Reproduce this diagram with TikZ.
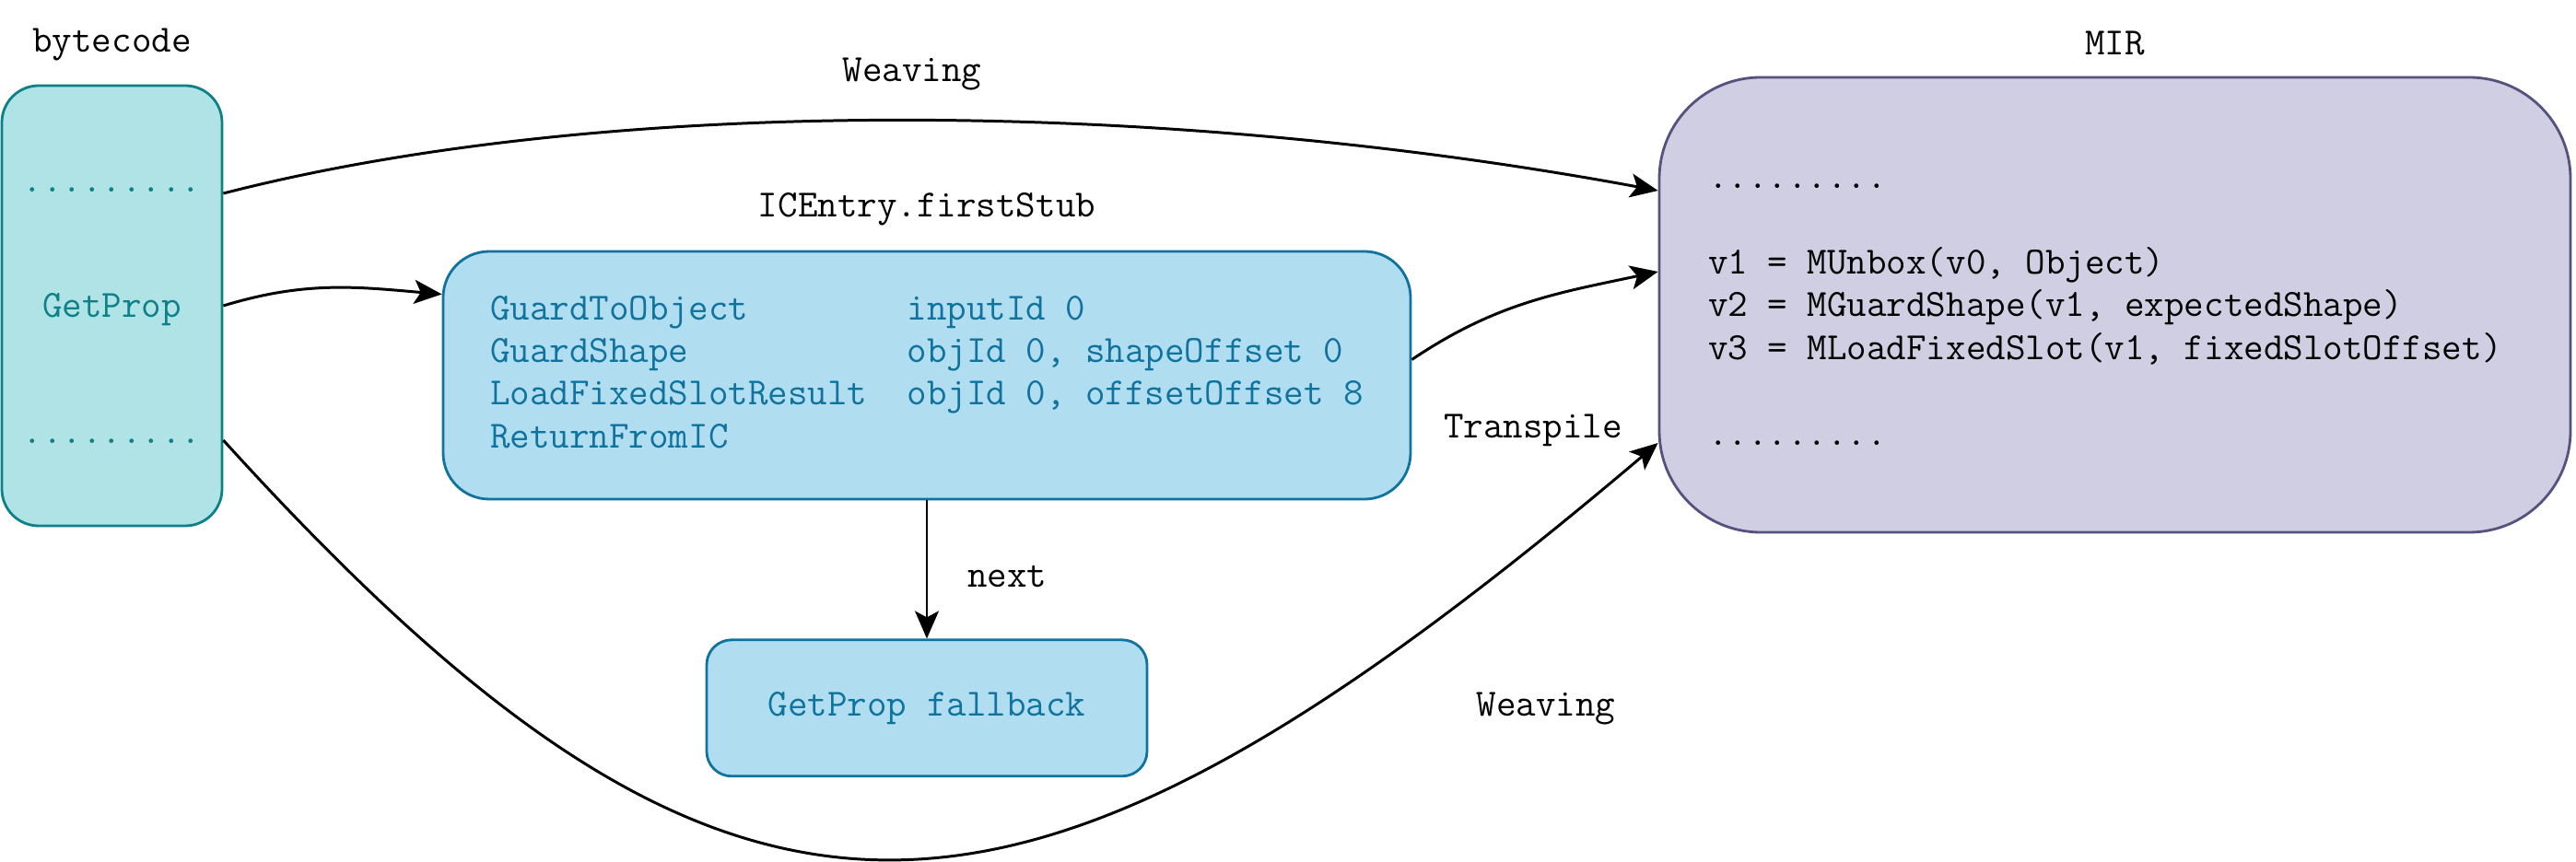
\documentclass[tikz,border=0pt]{standalone}
\usepackage{fontspec}
\usetikzlibrary{arrows.meta,positioning}
\definecolor{bcfill}{HTML}{B0E3E6}
\definecolor{bcline}{HTML}{0E8088}
\definecolor{icfill}{HTML}{B1DDF0}
\definecolor{icline}{HTML}{10739E}
\definecolor{mirfill}{HTML}{D0CEE2}
\definecolor{mirline}{HTML}{56517E}

\begin{document}
\begin{tikzpicture}[node distance=1.5cm,
  box/.style={rectangle,draw,line width=0.8pt,inner sep=0pt,font=\ttfamily\fontsize{11.9}{13.2}\selectfont},
  lbl/.style={inner sep=0pt,font=\ttfamily\fontsize{11.9}{13.2}\selectfont},
  arrow/.style={-{Stealth[length=0.3cm,width=0.26cm,inset=0.07cm]},line width=0.85pt}]
\useasboundingbox (0,0) rectangle (27.96,-9.36);
\node[box,fill=bcfill,draw=bcline,text=bcline,rounded corners=0.4cm,minimum width=2.39cm,minimum height=4.78cm,
  align=center,font=\ttfamily\fontsize{11.9}{38.7}\selectfont] (bc) at (1.215,-3.32) {\rule{0pt}{0.26cm}.........\\GetProp\\.........};
\node[lbl,above=0.25cm of bc] (bclabel) {bytecode};
\node[box,fill=icfill,draw=icline,text=icline,rounded corners=0.5cm,minimum width=10.5cm,minimum height=2.69cm] (ic) at (10.06,-4.075)
  {\begin{tabular}{@{}l@{\hspace{1.03em}}l@{}}
   GuardToObject & inputId 0\\
   GuardShape & objId 0, shapeOffset 0\\
   LoadFixedSlotResult & objId 0, offsetOffset 8\\
   ReturnFromIC &
   \end{tabular}};
\node[lbl,above=0.26cm of ic] (iclabel) {ICEntry.firstStub};
\node[box,fill=icfill,draw=icline,text=icline,rounded corners=0.27cm,minimum width=4.78cm,minimum height=1.48cm,below=1.5cm of ic] (fb) {GetProp fallback};
\node[box,fill=mirfill,draw=mirline,rounded corners=1.1cm,minimum width=9.89cm,minimum height=4.94cm,text width=8.83cm,align=left] (mir) at (22.955,-3.31)
  {\spaceskip=0pt\relax
   \rule{0pt}{0.26cm}.........\\[13.2pt]v1 = MUnbox(v0, Object)\\v2 = MGuardShape(v1, expectedShape)\\v3 = MLoadFixedSlot(v1, fixedSlotOffset)\\[13.2pt].........};
\node[lbl,above=0.22cm of mir] (mirlabel) {MIR};
\node[lbl] (weavetop) at (9.9,-0.81) {Weaving};
\node[lbl] (transpile) at (16.64,-4.67) {Transpile};
\node[lbl] (weavebot) at (16.78,-7.70) {Weaving};
\draw[arrow] ([yshift=1.22cm]bc.east) .. controls (6.5,-1.05) and (12.5,-1.05) .. ([yshift=1.24cm]mir.west);
\draw[arrow] (bc.east) to[out=17,in=175] ([yshift=0.88cm]ic.west);
\draw[arrow] ([yshift=0.17cm]ic.east) to[out=34,in=192] ([yshift=0.36cm]mir.west);
\draw[arrow] ([yshift=-1.46cm]bc.east) .. controls (8.01,-10.94) and (11.02,-10.72) .. ([yshift=-1.5cm]mir.west);
\draw[arrow,line width=0.65pt] (ic.south) -- node[lbl,right=0.43cm,pos=0.55] (nextlabel) {next} (fb.north);
\end{tikzpicture}
\end{document}
